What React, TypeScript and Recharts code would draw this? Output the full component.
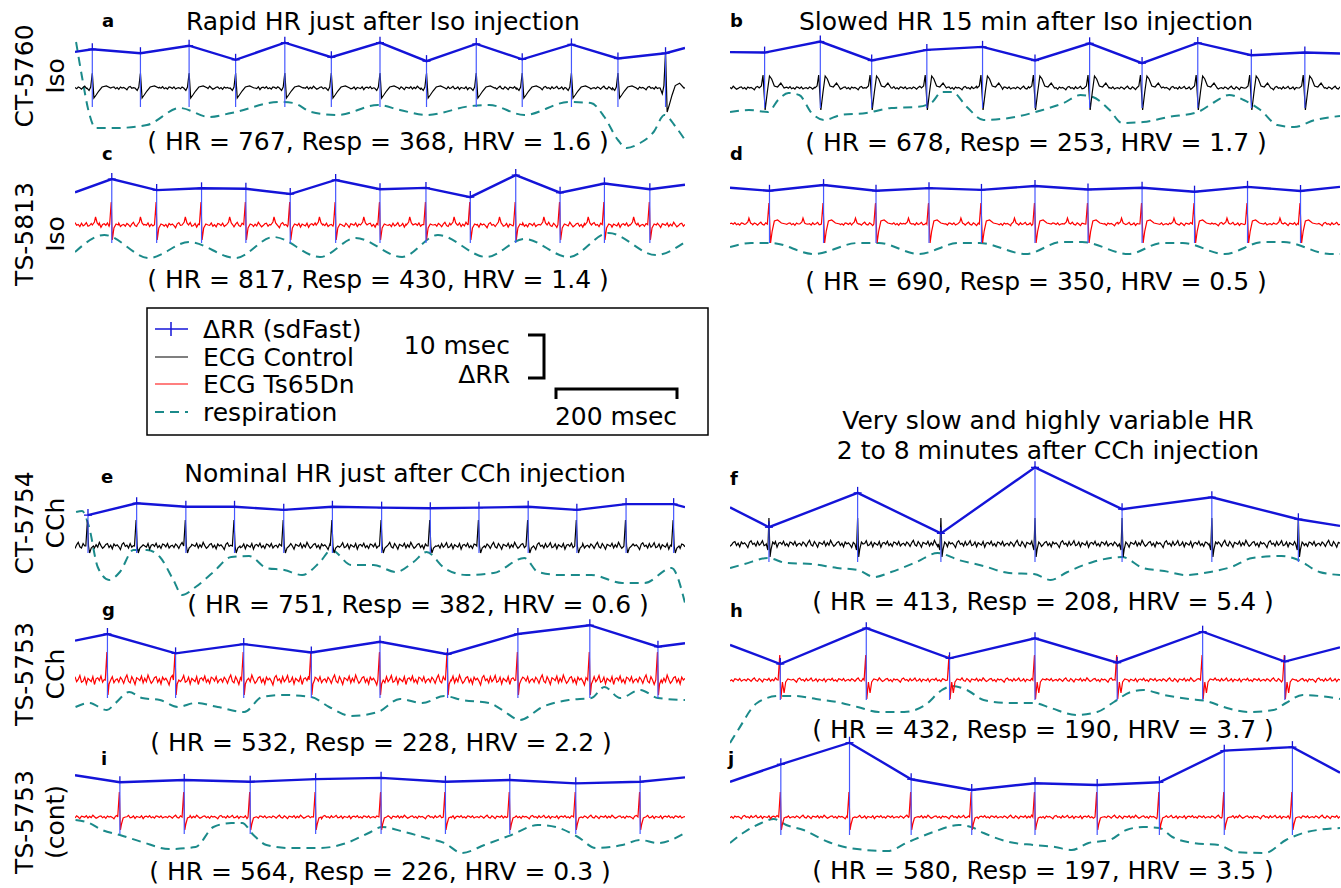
import { LineChart, Line, XAxis, YAxis, ErrorBar } from 'recharts';

const FONT = '"DejaVu Sans", Verdana, sans-serif';
const SPAN_MS = 1128;
const CHART_W = 610;
const RR_PX = 4.4; // px per ms of ΔRR (10 msec bar)
const ECG_PX = 20; // px per mV
const RESP_PX = 10; // px per a.u.
const NOISE_STEP = 3; // ms between baseline samples

const BLUE = '#1414d8';
const TICK_BLUE = '#4658ff';
const RED = '#ff0000';
const BLACK = '#000000';
const TEAL = '#1b8a8a';

// baseline texture of the ECG between beats (normalised)
const baselineNoise = [
  0.2, -0.4, 0.5, 0.1, -0.6, 0.3, 0.9, -0.2, -0.5, 0.6, 0.0, -0.8, 0.4, 0.2, -0.1, 0.7,
  -0.5, 0.3, -0.3, 0.9, 0.1, -0.6, -0.2, 0.4, 0.6, -0.4, 0.2, -0.7, 0.5, 0.0, 0.3, -0.2,
  -0.9, 0.4, 0.8, -0.1, 0.2, -0.5, 0.6, -0.3, 0.1, 0.8, -0.4, -0.2, 0.5, -0.7, 0.3, 0.0,
  -0.3, 0.6, -0.8, 0.2, 0.4, -0.1, 0.7, -0.4, 0.1, -0.6, 0.5, 0.3, -0.2, 0.6, -0.5, 0.0,
];

// beat shapes: [ms from R peak, mV]
const qrsA = [[-10, 0], [-6, -0.12], [-3, 0.05], [0, 0.75], [3, -0.5], [7, -0.35], [12, -0.15], [18, 0.05], [26, 0.1], [34, 0]];
const qrsB = [[-10, 0], [-6, 0.1], [-3, 0.65], [1, -1.1], [5, -0.2], [9, 0.6], [13, 0.45], [18, 0.1], [24, 0.05], [30, 0.25], [36, 0]];
const qrsC = [[-4, 0.02], [-1, 1.15], [1, -0.75], [4, -0.15], [8, 0.05], [12, 0]];
const pWaveC = [[-36, 0], [-32, 0.15], [-30, 0.4], [-27, 0.1], [-24, 0]];
const qrsD = [[-4, 0], [-1, 1.05], [2, -0.95], [5, -0.35], [9, 0.15], [15, 0.2], [22, 0.05], [30, 0]];
const pWaveD = [[-44, 0], [-40, 0.1], [-38, 0.3], [-35, 0.05], [-32, 0]];
const qrsE = [[-4, 0], [-1, 1.3], [1, 0.0], [3, -0.35], [6, -0.1], [10, 0]];
const qrsF = [[-5, 0], [-2, -0.3], [0, 1.3], [2, -0.65], [4, -0.25], [7, 0.1], [10, 0]];
const qrsG = [[-4, 0], [-1, 1.4], [1, -0.75], [3, -0.2], [6, 0]];
const qrsH = [[-4, 0], [-1, 1.25], [1, -0.95], [4, -0.1], [7, -0.65], [10, -0.1], [14, 0.05], [20, 0]];
const qrsIJ = [[-4, 0], [-1, 1.25], [1, -0.65], [3, -0.35], [6, -0.05], [10, 0]];

// a
const beatsA = [32, 121, 211, 297, 388, 474, 564, 650, 742, 827, 918, 1004, 1092];
const rrA = [2.9, 2.0, 3.7, 0.5, 4.4, 1.1, 4.4, 0.2, 4.1, 0.6, 4.0, 0.8, 2.0];
const rrEdgeA = [2.3, 3.2];
const ampA = [1, 1, 1, 1, 1, 1, 1, 1, 1, 1, 1, 1, 2.4];
const respTA = [2, 13, 26, 38, 75, 133, 194, 248, 289, 379, 404, 437, 486, 560, 601, 650, 733, 766, 831, 913, 954, 979, 1004, 1020, 1045, 1070, 1090, 1111, 1128];
const respA = [10.8, 7.3, 3.7, 2.2, 2.2, 2.5, 4.2, 3.3, 3.7, 4.8, 4.7, 3.8, 3.5, 4.5, 4.0, 3.5, 4.4, 4.5, 3.5, 4.8, 4.7, 3.3, 1.0, 0.2, 0.7, 1.8, 3.5, 2.3, 1.0];

// b
const beatsB = [64, 167, 262, 364, 467, 564, 665, 762, 865, 964, 1063];
const rrB = [2.6, 5.1, 0.8, 3.2, 3.9, 0.8, 4.7, 0.2, 4.8, 2.0, 2.6];
const rrEdgeB = [2.7, 2.4];
const respTB = [0, 35, 70, 89, 108, 128, 151, 174, 205, 252, 298, 345, 372, 392, 411, 438, 469, 516, 578, 617, 648, 671, 702, 725, 764, 811, 865, 896, 923, 950, 981, 1012, 1043, 1082, 1128];
const respB = [1.8, 2.0, 1.8, 3.0, 3.7, 3.5, 1.7, 1.0, 1.5, 1.7, 2.2, 2.3, 2.7, 3.8, 3.8, 2.3, 1.0, 1.2, 2.0, 2.7, 3.5, 3.3, 2.0, 0.7, 0.8, 1.3, 1.8, 2.8, 3.5, 3.0, 2.0, 0.5, 0.3, 1.0, 1.4];

// c
const beatsC = [68, 151, 234, 316, 398, 482, 564, 649, 731, 815, 897, 979, 1063];
const rrC = [4.3, 1.8, 2.2, 2.1, 0.9, 4.1, 2.0, 2.3, 0.2, 5.2, 1.2, 3.3, 2.0];
const rrEdgeC = [1.3, 3.0];
const respTC = [0, 54, 137, 211, 297, 367, 453, 519, 605, 671, 761, 831, 913, 987, 1074, 1128];
const respC = [0.8, 2.5, 0.2, 1.8, 0.2, 2.3, 0.3, 2.2, 0.3, 2.5, 0.3, 2.1, 0.3, 2.7, 0.5, 1.8];

// d
const beatsD = [73, 173, 270, 368, 465, 564, 662, 762, 859, 957, 1055];
const rrD = [0.5, 1.8, 0.5, 1.1, 0.7, 1.6, 0.8, 1.2, 0.3, 1.4, 0.45];
const rrEdgeD = [1.2, 1.4];
const respTD = [0, 39, 77, 155, 237, 275, 349, 423, 461, 547, 613, 651, 737, 799, 837, 915, 986, 1024, 1109, 1128];
const respD = [1.1, 1.5, 1.5, 0.4, 1.5, 1.5, 0.4, 1.5, 1.5, 0.4, 1.6, 1.6, 0.4, 1.5, 1.5, 0.4, 1.6, 1.6, 0.4, 0.4];

// e
const beatsE = [24, 114, 205, 295, 386, 476, 567, 657, 747, 838, 928, 1019, 1107];
const rrE = [0.2, 2.9, 2.1, 2.1, 1.4, 2.1, 1.9, 1.75, 1.9, 2.1, 1.4, 2.7, 2.7];
const rrEdgeE = [null, 2.0];
const respTE = [2, 13, 26, 42, 63, 83, 108, 133, 157, 182, 198, 223, 256, 289, 322, 354, 387, 420, 453, 474, 511, 552, 593, 626, 650, 683, 724, 774, 831, 856, 897, 955, 1012, 1053, 1103, 1128];
const respE = [8.8, 8.9, 7.3, 3.3, 2.0, 2.8, 5.0, 5.0, 4.3, 2.0, 0.5, 1.3, 2.8, 4.3, 4.4, 3.2, 3.0, 2.5, 3.8, 5.0, 3.5, 3.5, 2.8, 3.8, 4.8, 3.2, 2.5, 2.7, 4.2, 2.8, 2.5, 2.5, 1.7, 1.7, 3.2, -0.3];

// f
const beatsF = [72, 236, 390, 564, 725, 891, 1051];
const rrF = [2.0, 9.8, 0.6, 15.6, 6.1, 8.8, 3.8];
const rrEdgeF = [6.5, 2.3];
const respTF = [0, 27, 70, 104, 151, 198, 236, 267, 298, 345, 384, 423, 469, 516, 562, 593, 624, 671, 725, 764, 803, 842, 888, 927, 966, 1020, 1051, 1090, 1128];
const respF = [1.7, 2.1, 2.7, 2.2, 2.1, 1.7, 1.5, 0.8, 1.3, 2.3, 3.2, 2.5, 1.9, 1.2, 1.1, 0.5, 1.3, 2.3, 2.8, 1.7, 1.4, 1.0, 1.3, 1.8, 2.7, 2.9, 2.5, 1.3, 1.0];

// g
const beatsG = [60, 186, 312, 437, 564, 689, 819, 952, 1078];
const rrG = [5.0, 0.6, 2.7, 0.8, 3.25, 0.4, 5.0, 7.0, 2.1];
const rrEdgeG = [3.5, 2.9];
const respTG = [1, 26, 59, 75, 100, 124, 157, 190, 223, 264, 313, 346, 387, 437, 470, 511, 560, 601, 642, 683, 716, 766, 790, 823, 864, 913, 955, 979, 1008, 1045, 1078, 1128];
const respG = [1.8, 2.2, 1.5, 2.2, 3.3, 2.7, 2.5, 1.8, 2.2, 1.8, 1.3, 2.8, 3.0, 2.8, 1.8, 0.9, 1.3, 2.6, 2.2, 2.9, 2.5, 2.2, 1.5, 0.5, 1.8, 2.5, 2.7, 3.8, 2.7, 3.5, 2.7, 2.5];

// h
const beatsH = [93, 252, 406, 564, 716, 874, 1026];
const rrH = [0.45, 8.6, 1.75, 6.3, 0.75, 7.8, 1.0];
const rrEdgeH = [4.8, 4.25];
const respTH = [0, 15, 50, 89, 120, 159, 198, 236, 275, 322, 361, 392, 411, 438, 469, 516, 562, 593, 640, 679, 710, 741, 764, 803, 849, 880, 919, 958, 1005, 1028, 1059, 1090, 1128];
const respH = [-0.3, 1.0, 3.7, 4.4, 4.4, 4.1, 3.8, 3.3, 2.8, 2.8, 3.5, 5.0, 5.4, 5.0, 4.0, 3.7, 3.7, 3.2, 2.5, 2.8, 3.8, 4.8, 5.0, 4.5, 4.1, 3.9, 3.2, 2.8, 3.0, 3.7, 4.5, 4.4, 4.1];

// i
const beatsI = [83, 202, 324, 445, 566, 685, 804, 926, 1045];
const rrI = [0.4, 0.9, 0.5, 1.1, 1.4, 0.5, 0.9, 0.15, 0.5];
const rrEdgeI = [2.0, 1.5];
const respTI = [1, 26, 50, 83, 124, 174, 223, 256, 289, 309, 330, 354, 395, 453, 502, 543, 568, 609, 650, 683, 716, 757, 807, 856, 889, 930, 963, 1012, 1045, 1078, 1128];
const respI = [4.0, 3.7, 3.0, 2.5, 1.8, 1.1, 1.3, 3.3, 3.7, 3.7, 2.5, 1.5, 1.2, 1.2, 1.7, 2.7, 3.3, 2.8, 2.2, 1.7, 0.7, 1.5, 2.5, 3.5, 3.3, 2.3, 1.2, 1.5, 2.0, 1.7, 2.7];

// j
const beatsJ = [94, 221, 335, 447, 564, 679, 794, 914, 1040];
const rrJ = [6.3, 11.2, 2.9, 0.45, 2.0, 1.6, 2.2, 9.4, 10.2];
const rrEdgeJ = [2.3, 4.4];
const respTJ = [0, 27, 58, 81, 104, 136, 182, 221, 291, 330, 376, 423, 446, 469, 516, 562, 601, 632, 663, 702, 733, 764, 794, 818, 857, 904, 935, 989, 1028, 1067, 1128];
const respJ = [1.7, 2.8, 3.7, 4.1, 3.5, 3.0, 1.8, 1.2, 0.9, 1.8, 2.8, 3.5, 3.3, 2.7, 1.8, 1.5, 1.3, 1.0, 1.7, 2.0, 3.0, 3.3, 3.2, 2.3, 1.7, 1.5, 0.8, 0.7, 2.0, 2.8, 3.2];

// text
const panelLetters = ['a', 'b', 'c', 'd', 'e', 'f', 'g', 'h', 'i', 'j'];
const hrValues = [767, 678, 817, 690, 751, 413, 532, 432, 564, 580];
const respRates = [368, 253, 430, 350, 382, 208, 228, 190, 226, 197];
const hrvValues = ['1.6', '1.7', '1.4', '0.5', '0.6', '5.4', '2.2', '3.7', '0.3', '3.5'];
const rowLabels = [['CT-5760', 'Iso'], ['TS-5813', 'Iso'], ['CT-5754', 'CCh'], ['TS-5753', 'CCh'], ['TS-5753', '(cont)']];

type Panel = {
  left: number; top: number; height: number;
  rrZero: number; ecgZero: number; respZero: number; tickFloor: number;
  ecgColor: string; noise: number; shapes: number[][][];
  beats: number[]; rr: number[]; rrEdge: (number | null)[]; amp?: number[];
  respT: number[]; resp: number[];
  letter: [number, number]; stat: [number, number];
};

const panels: Panel[] = [
  { left: 75, top: 32, height: 123, rrZero: 62, ecgZero: 88, respZero: 150, tickFloor: 107, ecgColor: BLACK, noise: 0.1, shapes: [qrsA], beats: beatsA, rr: rrA, rrEdge: rrEdgeA, amp: ampA, respT: respTA, resp: respA, letter: [102, 27], stat: [378, 150] },
  { left: 730, top: 30, height: 105, rrZero: 64, ecgZero: 88, respZero: 130, tickFloor: 108, ecgColor: BLACK, noise: 0.1, shapes: [qrsB], beats: beatsB, rr: rrB, rrEdge: rrEdgeB, respT: respTB, resp: respB, letter: [730, 27], stat: [1036, 151] },
  { left: 75, top: 165, height: 100, rrZero: 198, ecgZero: 225, respZero: 260, tickFloor: 243, ecgColor: RED, noise: 0.15, shapes: [pWaveC, qrsC], beats: beatsC, rr: rrC, rrEdge: rrEdgeC, respT: respTC, resp: respC, letter: [102, 160], stat: [378, 288] },
  { left: 730, top: 165, height: 100, rrZero: 193, ecgZero: 224, respZero: 258, tickFloor: 243, ecgColor: RED, noise: 0.1, shapes: [pWaveD, qrsD], beats: beatsD, rr: rrD, rrEdge: rrEdgeD, respT: respTD, resp: respD, letter: [730, 160], stat: [1036, 290] },
  { left: 75, top: 495, height: 115, rrZero: 516, ecgZero: 546, respZero: 600, tickFloor: 553, ecgColor: BLACK, noise: 0.2, shapes: [qrsE], beats: beatsE, rr: rrE, rrEdge: rrEdgeE, respT: respTE, resp: respE, letter: [101, 483], stat: [418, 613] },
  { left: 730, top: 455, height: 135, rrZero: 536, ecgZero: 544, respZero: 585, tickFloor: 562, ecgColor: BLACK, noise: 0.2, shapes: [qrsF], beats: beatsF, rr: rrF, rrEdge: rrEdgeF, respT: respTF, resp: respF, letter: [730, 485], stat: [1043, 610] },
  { left: 75, top: 615, height: 110, rrZero: 656, ecgZero: 680, respZero: 725, tickFloor: 698, ecgColor: RED, noise: 0.28, shapes: [qrsG], beats: beatsG, rr: rrG, rrEdge: rrEdgeG, respT: respTG, resp: respG, letter: [102, 616], stat: [381, 751] },
  { left: 730, top: 615, height: 135, rrZero: 666, ecgZero: 680, respZero: 740, tickFloor: 700, ecgColor: RED, noise: 0.12, shapes: [qrsH], beats: beatsH, rr: rrH, rrEdge: rrEdgeH, respT: respTH, resp: respH, letter: [730, 617], stat: [1043, 738] },
  { left: 75, top: 765, height: 95, rrZero: 784, ecgZero: 817, respZero: 860, tickFloor: 834, ecgColor: RED, noise: 0.1, shapes: [qrsIJ], beats: beatsI, rr: rrI, rrEdge: rrEdgeI, respT: respTI, resp: respI, letter: [101, 765], stat: [380, 880] },
  { left: 730, top: 730, height: 130, rrZero: 792, ecgZero: 817, respZero: 860, tickFloor: 835, ecgColor: RED, noise: 0.1, shapes: [qrsIJ], beats: beatsJ, rr: rrJ, rrEdge: rrEdgeJ, respT: respTJ, resp: respJ, letter: [728, 765], stat: [1043, 879] },
];

const rowLabelY = [76, 234, 523, 674, 822];

function domainFor(zero: number, pxPerUnit: number, p: Panel) {
  return [(zero - p.top - p.height) / pxPerUnit, (zero - p.top) / pxPerUnit];
}

function buildEcg(p: Panel, seed: number) {
  const pts: { t: number; v: number }[] = [];
  const spans: number[][] = [];
  p.beats.forEach((b, k) => {
    const a = p.amp ? p.amp[k] : 1;
    p.shapes.forEach((shape) => {
      spans.push([b + shape[0][0], b + shape[shape.length - 1][0]]);
      shape.forEach(([dt, v]) => {
        const t = b + dt;
        if (t >= 0 && t <= SPAN_MS) pts.push({ t, v: v * a });
      });
    });
  });
  for (let i = 0; i * NOISE_STEP <= SPAN_MS; i++) {
    const t = i * NOISE_STEP;
    if (spans.some(([s, e]) => t >= s && t <= e)) continue;
    pts.push({ t, v: baselineNoise[(i + seed * 17) % baselineNoise.length] * p.noise });
  }
  return pts.sort((x, y) => x.t - y.t);
}

function RRMark(props: any) {
  const { cx, cy, payload } = props;
  if (payload?.edge || cx == null || cy == null) return null;
  return (
    <g>
      <line x1={cx - 4} x2={cx + 4} y1={cy} y2={cy} stroke={BLUE} strokeWidth={1.3} />
      <line x1={cx} x2={cx} y1={cy - 6} y2={cy} stroke={BLUE} strokeWidth={1.3} />
    </g>
  );
}

function Trace({ p, seed }: { p: Panel; seed: number }) {
  const floorMs = (p.rrZero - p.tickFloor) / RR_PX;
  const rrData: any[] = [];
  if (p.rrEdge[0] != null) rrData.push({ t: 0, v: p.rrEdge[0], edge: true, err: [0, 0] });
  p.beats.forEach((t, i) => rrData.push({ t, v: p.rr[i], err: [p.rr[i] - floorMs, 0] }));
  if (p.rrEdge[1] != null) rrData.push({ t: SPAN_MS, v: p.rrEdge[1], edge: true, err: [0, 0] });
  const respData = p.respT.map((t, i) => ({ t, v: p.resp[i] }));
  const ecgData = buildEcg(p, seed);

  return (
    <div style={{ position: 'absolute', left: p.left, top: p.top }}>
      <LineChart width={CHART_W} height={p.height} margin={{ top: 0, right: 0, bottom: 0, left: 0 }}>
        <XAxis type="number" dataKey="t" domain={[0, SPAN_MS]} hide allowDataOverflow />
        <YAxis yAxisId="rr" type="number" hide allowDataOverflow domain={domainFor(p.rrZero, RR_PX, p)} />
        <YAxis yAxisId="ecg" type="number" hide allowDataOverflow domain={domainFor(p.ecgZero, ECG_PX, p)} />
        <YAxis yAxisId="resp" type="number" hide allowDataOverflow domain={domainFor(p.respZero, RESP_PX, p)} />
        <Line yAxisId="resp" data={respData} dataKey="v" type="monotone" stroke={TEAL} strokeWidth={2} strokeDasharray="9 6" dot={false} isAnimationActive={false} />
        <Line yAxisId="ecg" data={ecgData} dataKey="v" type="linear" stroke={p.ecgColor} strokeWidth={1.2} dot={false} isAnimationActive={false} />
        <Line yAxisId="rr" data={rrData} dataKey="v" type="linear" stroke={BLUE} strokeWidth={2.4} dot={<RRMark />} isAnimationActive={false}>
          <ErrorBar dataKey="err" width={0} stroke={TICK_BLUE} strokeWidth={1.2} direction="y" isAnimationActive={false} />
        </Line>
      </LineChart>
    </div>
  );
}

export default function App() {
  return (
    <div style={{ position: 'absolute', left: 0, top: 0, width: 1341, height: 888, background: '#fff', overflow: 'hidden' }}>
      {panels.map((p, i) => (
        <Trace key={i} p={p} seed={i} />
      ))}
      <svg width={1341} height={888} style={{ position: 'absolute', left: 0, top: 0, pointerEvents: 'none' }} fontFamily={FONT}>
        <g fontSize={25} fill="#000" textAnchor="middle">
          <text x={383} y={30}>Rapid HR just after Iso injection</text>
          <text x={1026} y={30}>Slowed HR 15 min after Iso injection</text>
          <text x={405} y={482}>Nominal HR just after CCh injection</text>
          <text x={1048} y={429}>Very slow and highly variable HR</text>
          <text x={1048} y={459}>2 to 8 minutes after CCh injection</text>
          {panels.map((p, i) => (
            <text key={i} x={p.stat[0]} y={p.stat[1]}>
              {`( HR = ${hrValues[i]}, Resp = ${respRates[i]}, HRV = ${hrvValues[i]} )`}
            </text>
          ))}
          {rowLabels.map((lines, i) => (
            <g key={i}>
              <text transform={`translate(33, ${rowLabelY[i]}) rotate(-90)`}>{lines[0]}</text>
              <text transform={`translate(64, ${rowLabelY[i]}) rotate(-90)`}>{lines[1]}</text>
            </g>
          ))}
        </g>
        <g fontSize={18} fontWeight={700}>
          {panels.map((p, i) => (
            <text key={i} x={p.letter[0]} y={p.letter[1]}>{panelLetters[i]}</text>
          ))}
        </g>
        {/* legend */}
        <rect x={147} y={308} width={561} height={127} fill="none" stroke="#000" strokeWidth={1.5} />
        <line x1={155} x2={188} y1={329} y2={329} stroke={BLUE} strokeWidth={1.5} />
        <line x1={171} x2={171} y1={322} y2={336} stroke={BLUE} strokeWidth={1.5} />
        <line x1={155} x2={188} y1={357} y2={357} stroke={BLACK} strokeWidth={1.2} />
        <line x1={155} x2={188} y1={384} y2={384} stroke={RED} strokeWidth={1.2} />
        <line x1={155} x2={188} y1={412} y2={412} stroke={TEAL} strokeWidth={2} strokeDasharray="9 6" />
        <g fontSize={25}>
          <text x={203} y={338}>ΔRR (sdFast)</text>
          <text x={203} y={366}>ECG Control</text>
          <text x={203} y={393}>ECG Ts65Dn</text>
          <text x={203} y={421}>respiration</text>
          <text x={510} y={354} textAnchor="end">10 msec</text>
          <text x={510} y={383} textAnchor="end">ΔRR</text>
          <text x={616} y={425} textAnchor="middle">200 msec</text>
        </g>
        <path d="M528 335 H544 V378 H528" fill="none" stroke="#000" strokeWidth={3} />
        <path d="M556 399 V389 H677 V399" fill="none" stroke="#000" strokeWidth={3} />
      </svg>
    </div>
  );
}
